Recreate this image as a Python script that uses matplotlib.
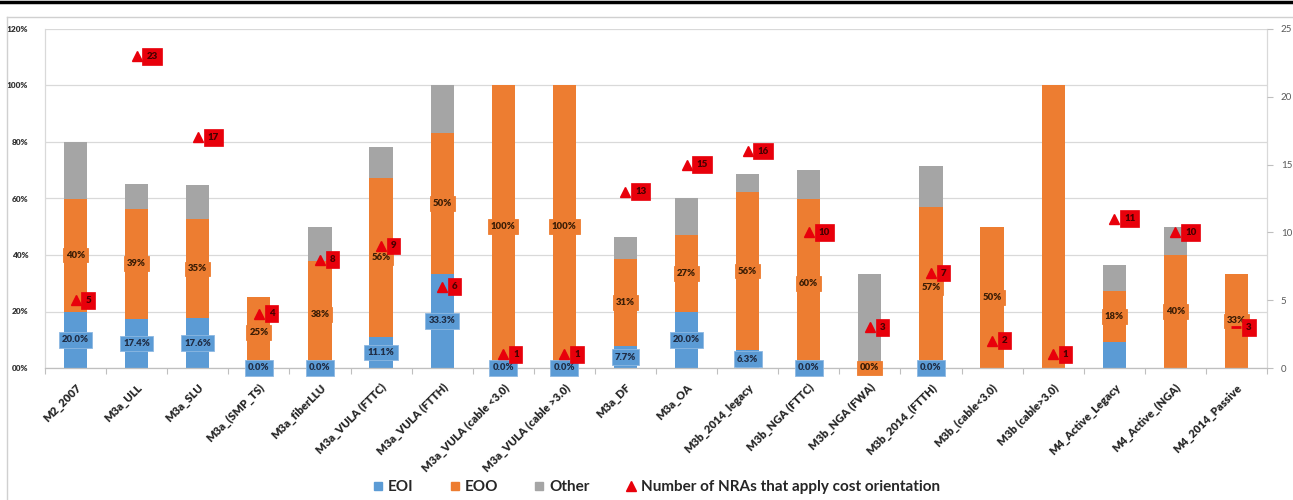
import matplotlib
matplotlib.use("Agg")
import matplotlib.pyplot as plt
from matplotlib.lines import Line2D
import numpy as np

plt.rcParams['font.family'] = ['Lato', 'DejaVu Sans']

categories = ["M2_2007", "M3a_ULL", "M3a_SLU", "M3a_(SMP_TS)", "M3a_fiberLLU",
              "M3a_VULA (FTTC)", "M3a_VULA (FTTH)", "M3a_VULA (cable <3.0)",
              "M3a_VULA (cable >3.0)", "M3a_DF", "M3a_OA", "M3b_2014_legacy",
              "M3b_NGA (FTTC)", "M3b_NGA (FWA)", "M3b_2014_(FTTH)", "M3b_(cable<3.0)",
              "M3b (cable>3.0)", "M4_Active_Legacy", "M4_Active_(NGA)", "M4_2014_Passive"]

eoi = [20.0, 17.4, 17.6, 0, 0, 11.1, 33.3, 0, 0, 7.7, 20.0, 6.3, 0, 0, 0, 0, 0, 9.1, 0, 0]
eoo = [40, 39, 35, 25, 38, 56, 50, 100, 100, 31, 27, 56, 60, 0, 57.1, 50, 100, 18.2, 40, 33.3]
other = [20, 8.8, 12.3, 0, 12, 11, 16.7, 0, 0, 7.6, 13, 6.2, 10, 33.3, 14.3, 0, 0, 9.1, 10, 0]
nras = [5, 23, 17, 4, 8, 9, 6, 1, 1, 13, 15, 16, 10, 3, 7, 2, 1, 11, 10, 3]

eoi_labels = ["20.0%", "17.4%", "17.6%", "0.0%", "0.0%", "11.1%", "33.3%", "0.0%", "0.0%",
              "7.7%", "20.0%", "6.3%", "0.0%", None, "0.0%", None, None, None, None, None]
eoo_labels = ["40%", "39%", "35%", "25%", "38%", "56%", "50%", "100%", "100%", "31%", "27%",
              "56%", "60%", "00%", "57%", "50%", None, "18%", "40%", "33%"]

left_ticks = [0, 20, 40, 60, 80, 100, 120]
left_tick_labels = ["00%", "20%", "40%", "60%", "80%", "100%", "120%"]
right_ticks = [0, 5, 10, 15, 20, 25]

C_EOI = "#5b9bd5"
C_EOO = "#ed7d31"
C_OTH = "#a5a5a5"
C_RED = "#e8000b"

fig = plt.figure(figsize=(12.93, 5.0), dpi=100)
ax = fig.add_axes([45 / 1293, 1 - 368 / 500, (1267 - 45) / 1293, (368 - 29) / 500])

x = np.arange(len(categories))
w = 0.38
eoi_a = np.array(eoi)
eoo_a = np.array(eoo)
oth_a = np.array(other)

ax.bar(x, eoi_a, w, color=C_EOI, zorder=2)
ax.bar(x, eoo_a, w, bottom=eoi_a, color=C_EOO, zorder=2)
ax.bar(x, oth_a, w, bottom=eoi_a + eoo_a, color=C_OTH, zorder=2)

ax.set_xlim(-0.5, len(categories) - 0.5)
ax.set_ylim(0, 120)
ax.set_yticks(left_ticks)
ax.set_yticklabels(left_tick_labels)
ax.tick_params(axis='y', length=0, labelsize=6, labelcolor='#333333', pad=12)
for t in ax.get_yticklabels():
    t.set_fontweight('heavy')
ax.yaxis.grid(True, color='#d9d9d9', lw=0.9, zorder=0)
ax.set_axisbelow(True)

ax.set_xticks(x)
ax.set_xticklabels(categories, rotation=45, ha='right', rotation_mode='anchor',
                   fontsize=8, fontweight='heavy', color='#262626')
ax.set_xticks(np.arange(-0.5, len(categories) + 0.5, 1), minor=True)
ax.tick_params(axis='x', which='major', length=0, pad=10)
ax.tick_params(axis='x', which='minor', length=4, color='#bfbfbf', width=0.8)

for s in ['left', 'right', 'bottom']:
    ax.spines[s].set_color('#d9d9d9')
    ax.spines[s].set_linewidth(0.9)
ax.spines['top'].set_visible(False)
ax.spines['bottom'].set_color('#bfbfbf')

# value labels for the EOI and EOO segments
for i in range(len(categories)):
    if eoi_labels[i] is not None:
        ax.text(x[i], eoi_a[i] / 2, eoi_labels[i], ha='center', va='center',
                fontsize=6.8, fontweight='heavy', color='#1f2d45', zorder=4,
                bbox=dict(boxstyle='square,pad=0.35', fc=C_EOI, ec='#8db8e2', lw=0.6))
    if eoo_labels[i] is not None:
        ax.text(x[i], eoi_a[i] + eoo_a[i] / 2, eoo_labels[i], ha='center', va='center',
                fontsize=6.8, fontweight='heavy', color='#3b1d05', zorder=4,
                bbox=dict(boxstyle='square,pad=0.3', fc=C_EOO, ec=C_EOO, lw=0.6))

# number of NRAs on the secondary axis
ax2 = ax.twinx()
ax2.set_ylim(0, 25)
ax2.set_yticks(right_ticks)
ax2.tick_params(axis='y', length=4, color='#bfbfbf', labelsize=7, labelcolor='#595959', pad=6)
for s in ax2.spines.values():
    s.set_visible(False)

n = len(categories)
ax2.plot(x[:n - 1], nras[:n - 1], ls='none', marker='^', ms=6.5, color=C_RED, zorder=5)
ax2.plot(x[n - 1:], nras[n - 1:], ls='none', marker='_', ms=7, mew=2, color=C_RED, zorder=5)
for i in range(n):
    ax2.annotate(str(nras[i]), (x[i], nras[i]), xytext=(7, 0), textcoords='offset points',
                 ha='left', va='center', fontsize=7, fontweight='heavy', color='#4a0000',
                 zorder=6,
                 bbox=dict(boxstyle='square,pad=0.4', fc=C_RED, ec=C_RED, lw=0.5))

# legend
handles = [
    Line2D([], [], ls='none', marker='s', ms=6, color=C_EOI),
    Line2D([], [], ls='none', marker='s', ms=6, color=C_EOO),
    Line2D([], [], ls='none', marker='s', ms=6, color=C_OTH),
    Line2D([], [], ls='none', marker='^', ms=7, color=C_RED),
]
leg = fig.legend(handles, ["EOI", "EOO", "Other", "Number of NRAs that apply cost orientation"],
                 loc='center', bbox_to_anchor=(655 / 1293, 1 - 487 / 500), ncol=4,
                 frameon=False, handletextpad=0.15, columnspacing=2.2, handlelength=1.0,
                 prop={'size': 11, 'weight': 'bold'})
for t in leg.get_texts():
    t.set_color('#262626')

# outer frame lines
fig.add_artist(Line2D([0, 1], [1 - 1.5 / 500, 1 - 1.5 / 500], transform=fig.transFigure,
                      color='black', lw=2.5))
fig.add_artist(Line2D([7 / 1293, 1], [1 - 17 / 500, 1 - 17 / 500], transform=fig.transFigure,
                      color='#d0d0d0', lw=1.0))
fig.add_artist(Line2D([7 / 1293, 7 / 1293], [0, 1 - 17 / 500], transform=fig.transFigure,
                      color='#d0d0d0', lw=1.0))

fig.savefig("out.png", dpi=100)
